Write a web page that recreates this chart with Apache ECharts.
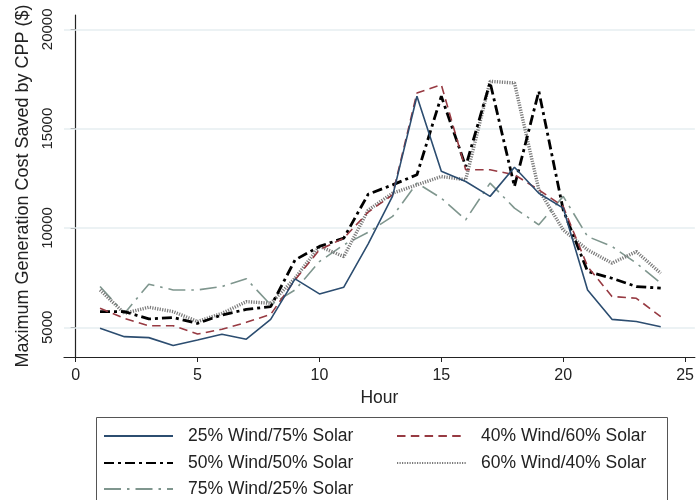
<!DOCTYPE html>
<html><head><meta charset="utf-8">
<script src="https://cdn.jsdelivr.net/npm/echarts@6/dist/echarts.min.js"></script>
<style>html,body{margin:0;padding:0;background:#fff}#c{width:697px;height:500px}</style>
</head><body><div id="c"></div>
<script>
const hours = [1,2,3,4,5,6,7,8,9,10,11,12,13,14,15,16,17,18,19,20,21,22,23,24];
const seriesNames = ['25% Wind/75% Solar','40% Wind/60% Solar','50% Wind/50% Solar','60% Wind/40% Solar','75% Wind/25% Solar'];
const w25 = [4950,4530,4480,4080,4360,4650,4400,5400,7440,6680,7020,9200,11600,16630,12850,12340,11590,13060,11750,11000,6880,5400,5290,5030];
const w40 = [5960,5450,5080,5080,4660,4900,5250,5650,7390,8900,9490,10800,11670,16790,17210,12930,12930,12680,11920,11080,8060,6550,6460,5540];
const w50 = [5790,5790,5420,5490,5200,5620,5900,6040,8390,9070,9490,11700,12170,12680,16630,13100,17330,12090,16880,10910,7810,7470,7050,6970];
const w60 = [6880,5700,6010,5790,5290,5700,6290,6210,7470,9070,8560,10900,11750,12170,12590,12430,17380,17300,11920,9900,8900,8230,8810,7720];
const w75 = [7050,5700,7170,6880,6880,7050,7440,6130,6880,8310,9150,9780,10580,12260,11500,10410,12260,11000,10160,11590,9570,9070,8230,7220];
const yTicks = [5000,10000,15000,20000];
const xTicks = [0,5,10,15,20,25];

const values = [w25,w40,w50,w60,w75];
const styles = [
  {color:'#2c4d70', width:1.6, type:'solid'},
  {color:'#973a42', width:1.6, type:[8.5,5.3]},
  {color:'#000000', width:2.8, type:[10,4,3,4]},
  {color:'#7a7a7a', width:3.4, type:[1.2,1.3]},
  {color:'#7f968e', width:1.6, type:[17,6,2.5,6]}
];
const font = 'Liberation Sans, Arial, sans-serif';
const series = seriesNames.map((n,i)=>({
  name:n, type:'line', showSymbol:false, symbol:'none',
  data: hours.map((h,j)=>[h, values[i][j]]),
  lineStyle: styles[i], itemStyle:{color:styles[i].color},
  emphasis:{disabled:true}, z: 10 - i
}));
const legPos = [[103,427],[396,427],[103,454],[396,454],[103,480]];
const legends = seriesNames.map((n,i)=>({
  data:[n], left:legPos[i][0], top:legPos[i][1], itemWidth:69, itemHeight:14, padding:0,
  selectedMode:false, itemStyle:{opacity:0},
  textStyle:{fontFamily:font, fontSize:17.5, color:'#222', padding:[0,0,0,10]}
}));
const chart = echarts.init(document.getElementById('c'), null, {renderer:'canvas'});
chart.setOption({
  animation:false,
  backgroundColor:'#fff',
  grid:{left:64, right:0, top:15, bottom:143},
  xAxis:{type:'value', min:-0.478, max:25.4,
    name:'Hour', nameLocation:'middle', nameGap:32,
    nameTextStyle:{fontFamily:font, fontSize:17.5, color:'#222'},
    axisLine:{lineStyle:{color:'#222', width:1.2}},
    axisTick:{show:true, length:5, customValues:xTicks, lineStyle:{color:'#222'}},
    axisLabel:{customValues:xTicks, fontFamily:font, fontSize:16, color:'#222', margin:11},
    splitLine:{show:false}},
  yAxis:{type:'value', min:3505, max:20720,
    name:'Maximum Generation Cost Saved by CPP ($)', nameLocation:'middle', nameGap:30,
    nameTextStyle:{fontFamily:font, fontSize:18, color:'#222'},
    axisLine:{show:true, lineStyle:{color:'#222', width:1.2}},
    axisTick:{show:true, length:5, customValues:yTicks, lineStyle:{color:'#222'}},
    axisLabel:{customValues:yTicks, formatter:v=>String(v), rotate:90, fontFamily:font, fontSize:15, color:'#222', margin:9},
    splitLine:{show:false}},
  graphic:[{type:'rect', shape:{x:96.5, y:417.5, width:571, height:90}, style:{fill:'none', stroke:'#555', lineWidth:1}}],
  legend: legends,
  series: series.concat([{type:'line', data:[], markLine:{silent:true, symbol:'none', label:{show:false},
     lineStyle:{color:'#e6eef0', width:1.5, type:'solid'}, data: yTicks.map(v=>({yAxis:v}))}, z:1}])
});
</script></body></html>
